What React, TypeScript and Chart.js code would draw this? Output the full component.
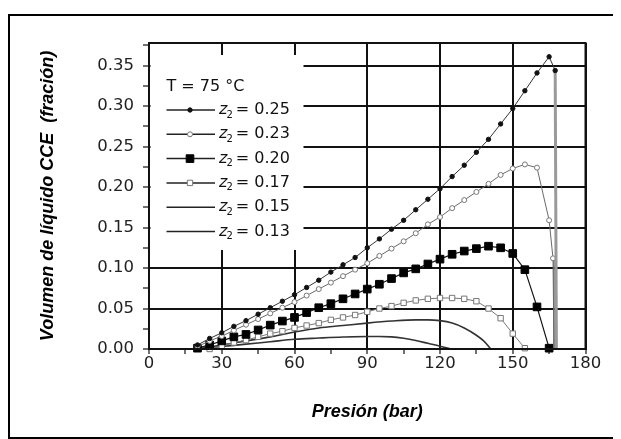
import React, { useEffect, useRef } from "react";
import { Chart, registerables } from "chart.js";
Chart.register(...registerables);

const FONT = "'Liberation Sans', Arial, Helvetica, sans-serif";
const TICK_FONT = "'DejaVu Sans', 'Liberation Sans', Arial, sans-serif";

// ---- data (pressure in bar, CCE liquid volume fraction) ----
const P25 = [20, 25, 30, 35, 40, 45, 50, 55, 60, 65, 70, 75, 80, 85, 90, 95, 100, 105, 110, 115, 120, 125, 130, 135, 140, 145, 150, 155, 160, 165, 167.5, 168];
const V25 = [0.005, 0.013, 0.020, 0.028, 0.035, 0.043, 0.051, 0.059, 0.067, 0.076, 0.085, 0.095, 0.104, 0.113, 0.125, 0.136, 0.148, 0.159, 0.172, 0.185, 0.198, 0.213, 0.227, 0.243, 0.259, 0.278, 0.297, 0.319, 0.341, 0.361, 0.344, 0.0];

const P23 = [20, 25, 30, 35, 40, 45, 50, 55, 60, 65, 70, 75, 80, 85, 90, 95, 100, 105, 110, 115, 120, 125, 130, 135, 140, 145, 150, 155, 160, 165, 166.6, 167];
const V23 = [0.003, 0.010, 0.016, 0.023, 0.030, 0.037, 0.044, 0.051, 0.058, 0.066, 0.074, 0.082, 0.090, 0.098, 0.106, 0.115, 0.124, 0.133, 0.143, 0.154, 0.163, 0.174, 0.184, 0.194, 0.204, 0.215, 0.223, 0.228, 0.224, 0.159, 0.112, 0.0];

const P20 = [20, 25, 30, 35, 40, 45, 50, 55, 60, 65, 70, 75, 80, 85, 90, 95, 100, 105, 110, 115, 120, 125, 130, 135, 140, 145, 150, 155, 160, 165];
const V20 = [0.001, 0.005, 0.010, 0.015, 0.018, 0.0235, 0.0295, 0.0345, 0.039, 0.045, 0.051, 0.056, 0.062, 0.068, 0.074, 0.080, 0.087, 0.094, 0.099, 0.105, 0.111, 0.117, 0.121, 0.124, 0.127, 0.125, 0.118, 0.098, 0.052, 0.001];

const P17 = [25, 30, 35, 40, 45, 50, 55, 60, 65, 70, 75, 80, 85, 90, 95, 100, 105, 110, 115, 120, 125, 130, 135, 140, 145, 150, 155];
const V17 = [0.0, 0.004, 0.008, 0.011, 0.015, 0.019, 0.022, 0.026, 0.029, 0.032, 0.036, 0.039, 0.042, 0.046, 0.050, 0.053, 0.057, 0.060, 0.062, 0.063, 0.063, 0.062, 0.059, 0.050, 0.038, 0.019, 0.001];

const P15 = [20, 30, 40, 50, 60, 70, 80, 90, 100, 110, 115, 120, 125, 130, 135, 138, 141];
const V15 = [0.0, 0.005, 0.010, 0.015, 0.021, 0.026, 0.029, 0.032, 0.0345, 0.036, 0.036, 0.035, 0.032, 0.026, 0.017, 0.010, 0.0];

const P13 = [20, 30, 40, 50, 60, 70, 80, 90, 95, 100, 105, 110, 115, 120, 124.5];
const V13 = [0.0, 0.003, 0.006, 0.009, 0.012, 0.0135, 0.0148, 0.0155, 0.0155, 0.015, 0.0132, 0.0105, 0.007, 0.0035, 0.0];

const SERIES_LABELS = ["0.25", "0.23", "0.20", "0.17", "0.15", "0.13"];
const LEGEND_HEADER = "T = 75 °C";

const X_MAJOR = [0, 30, 60, 90, 120, 150, 180];
const X_MINOR = [15, 45, 75, 105, 135, 165];
const Y_MAJOR = [0, 0.05, 0.1, 0.15, 0.2, 0.25, 0.3, 0.35];
const Y_MINOR = [0.025, 0.075, 0.125, 0.175, 0.225, 0.275, 0.325, 0.375];

const X_TITLE = "Presión (bar)";
const Y_TITLE = "Volumen de líquido CCE  (fración)";

const pts = (xs: number[], ys: number[]) => xs.map((x, i) => ({ x, y: ys[i] }));
const isIn = (arr: number[], v: number) => arr.some((a) => Math.abs(a - v) < 1e-6);

type Mk = { style: string; r: number; fill: string; stroke: string };
const MARKERS: Mk[] = [
  { style: "circle", r: 2.2, fill: "#111", stroke: "#111" },
  { style: "circle", r: 2.5, fill: "#fff", stroke: "#777" },
  { style: "rect", r: 5.4, fill: "#000", stroke: "#000" },
  { style: "rect", r: 3.8, fill: "#fff", stroke: "#777" },
  { style: "none", r: 0, fill: "#000", stroke: "#000" },
  { style: "none", r: 0, fill: "#000", stroke: "#000" },
];

function drawMarker(ctx: CanvasRenderingContext2D, m: Mk, x: number, y: number) {
  if (m.style === "none") return;
  ctx.save();
  ctx.fillStyle = m.fill;
  ctx.strokeStyle = m.stroke;
  ctx.lineWidth = 1;
  ctx.beginPath();
  if (m.style === "circle") {
    ctx.arc(x, y, m.r, 0, Math.PI * 2);
  } else {
    const h = m.r * Math.SQRT1_2;
    ctx.rect(x - h, y - h, 2 * h, 2 * h);
  }
  ctx.fill();
  ctx.stroke();
  ctx.restore();
}

const legendPlugin = {
  id: "customLegend",
  beforeDatasetsDraw(chart: any) {
    const { ctx, chartArea: a } = chart;
    ctx.save();
    ctx.fillStyle = "#fff";
    ctx.fillRect(a.left + 1.5, a.top + 12, 153, 195);
    ctx.fillStyle = "#111";
    ctx.textBaseline = "middle";
    ctx.textAlign = "left";
    ctx.font = `16px ${TICK_FONT}`;
    ctx.fillText(LEGEND_HEADER, a.left + 17.5, a.top + 44);
    SERIES_LABELS.forEach((lab, i) => {
      const y = a.top + 67 + i * 24.3;
      ctx.strokeStyle = "#222";
      ctx.lineWidth = 1.5;
      ctx.beginPath();
      ctx.moveTo(a.left + 17.5, y);
      ctx.lineTo(a.left + 66, y);
      ctx.stroke();
      drawMarker(ctx, MARKERS[i], a.left + 41, y);
      let x = a.left + 70;
      ctx.fillStyle = "#111";
      ctx.font = `italic 16px ${TICK_FONT}`;
      ctx.fillText("z", x, y);
      x += ctx.measureText("z").width - 1;
      ctx.font = `10px ${TICK_FONT}`;
      ctx.fillText("2", x, y + 5);
      x += ctx.measureText("2").width + 3;
      ctx.font = `16px ${TICK_FONT}`;
      ctx.fillText("= " + lab, x, y);
    });
    ctx.restore();
  },
};

const framePlugin = {
  id: "plotFrame",
  afterDatasetsDraw(chart: any) {
    const { ctx, chartArea: a } = chart;
    ctx.save();
    ctx.strokeStyle = "#111";
    ctx.lineWidth = 2;
    ctx.strokeRect(a.left, a.top, a.right - a.left, a.bottom - a.top);
    ctx.restore();
  },
};

export default function App() {
  const ref = useRef<HTMLCanvasElement | null>(null);
  useEffect(() => {
    if (!ref.current) return;
    const mkDs = (i: number, xs: number[], ys: number[], color: string, width: number, extra: any = {}) => {
      const m = MARKERS[i];
      const n = xs.length;
      return {
        label: "z2 = " + SERIES_LABELS[i],
        data: pts(xs, ys),
        borderColor: color,
        borderWidth: width,
        pointStyle: m.style === "none" ? false : m.style,
        pointRadius: (c: any) => (m.style === "none" ? 0 : extra.noLastMarker && c.dataIndex === n - 1 ? 0 : m.r),
        pointBackgroundColor: m.fill,
        pointBorderColor: m.stroke,
        pointBorderWidth: 1,
        pointHoverRadius: 0,
        tension: extra.tension ?? 0,
        cubicInterpolationMode: extra.mono ? "monotone" : "default",
        clip: false,
        fill: false,
        segment: extra.segment,
      };
    };
    const n25 = P25.length;
    const chart = new Chart(ref.current, {
      type: "line",
      data: {
        datasets: [
          mkDs(0, P25, V25, "#333", 1, {
            noLastMarker: true,
            segment: {
              borderColor: (c: any) => (c.p1DataIndex === n25 - 1 ? "#9a9a9a" : "#333"),
              borderWidth: (c: any) => (c.p1DataIndex === n25 - 1 ? 3 : 1),
            },
          }),
          mkDs(1, P23, V23, "#6a6a6a", 1, { noLastMarker: true }),
          mkDs(2, P20, V20, "#111", 1.2),
          mkDs(3, P17, V17, "#777", 1),
          mkDs(4, P15, V15, "#333", 1.6, { mono: true }),
          mkDs(5, P13, V13, "#333", 1.6, { mono: true }),
        ] as any,
      },
      options: {
        animation: false,
        responsive: false,
        events: [],
        layout: { padding: { left: 0, top: 35, right: 35.5, bottom: 0 } },
        plugins: { legend: { display: false }, tooltip: { enabled: false } },
        scales: {
          x: {
            type: "linear",
            min: 0,
            max: 180,
            afterFit: (s: any) => {
              s.height = 90;
            },
            afterBuildTicks: (s: any) => {
              s.ticks = [...X_MAJOR, ...X_MINOR].sort((p, q) => p - q).map((v) => ({ value: v }));
            },
            border: { display: true, color: "#111", width: 2 },
            grid: {
              color: (c: any) => (c.tick && isIn(X_MAJOR, c.tick.value) ? "#111" : "rgba(0,0,0,0)"),
              tickColor: "#111",
              lineWidth: 2,
              tickWidth: 1.2,
              tickLength: 5,
            },
            ticks: {
              autoSkip: false,
              maxRotation: 0,
              padding: 1,
              color: "#222",
              font: { family: TICK_FONT, size: 16.5, lineHeight: 1 },
              callback: (v: any) => (isIn(X_MAJOR, Number(v)) ? String(v) : ""),
            },
            title: {
              display: true,
              text: X_TITLE,
              color: "#000",
              font: { family: FONT, size: 18, style: "italic", weight: "bold", lineHeight: 1.2 },
              padding: { top: 0, bottom: 16 },
            },
          },
          y: {
            type: "linear",
            min: 0,
            max: 0.378,
            afterFit: (s: any) => {
              s.width = 141;
            },
            afterBuildTicks: (s: any) => {
              s.ticks = [...Y_MAJOR, ...Y_MINOR].sort((p, q) => p - q).map((v) => ({ value: v }));
            },
            border: { display: true, color: "#111", width: 2 },
            grid: {
              color: (c: any) => (c.tick && isIn(Y_MAJOR, c.tick.value) ? "#111" : "rgba(0,0,0,0)"),
              tickColor: "#111",
              lineWidth: 2,
              tickWidth: 1.2,
              tickLength: 6,
            },
            ticks: {
              autoSkip: false,
              padding: 9,
              color: "#222",
              font: { family: TICK_FONT, size: 16.5, lineHeight: 1 },
              callback: (v: any) => (isIn(Y_MAJOR, Number(v)) ? Number(v).toFixed(2) : ""),
            },
            title: {
              display: true,
              text: Y_TITLE,
              color: "#000",
              font: { family: FONT, size: 18, style: "italic", weight: "bold", lineHeight: 1.2 },
              padding: { top: 29, bottom: 0 },
            },
          },
        },
      } as any,
      plugins: [legendPlugin, framePlugin],
    });
    return () => chart.destroy();
  }, []);

  return (
    <div style={{ position: "relative", width: 613, height: 431, overflow: "hidden" }}>
      <div
        style={{
          position: "absolute",
          left: 0,
          top: 6,
          width: 700,
          height: 421,
          border: "2px solid #000",
          boxSizing: "content-box",
        }}
      />
      <canvas ref={ref} width={613} height={431} style={{ position: "absolute", left: 0, top: 0, width: 613, height: 431 }} />
    </div>
  );
}
